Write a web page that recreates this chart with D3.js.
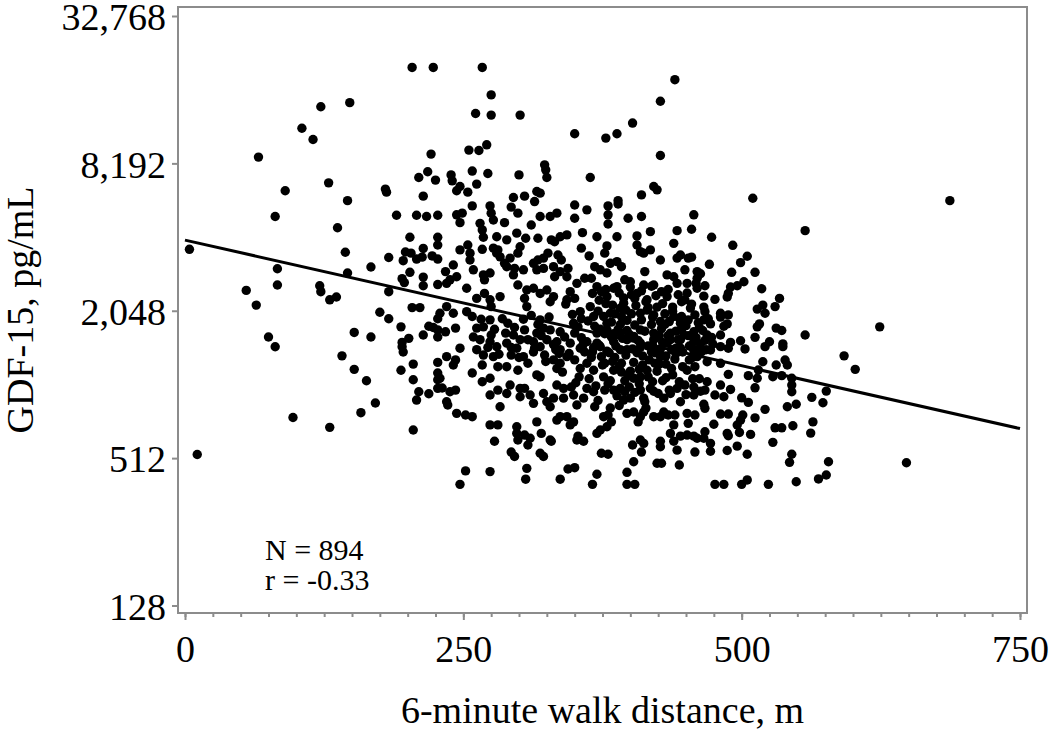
<!DOCTYPE html>
<html>
<head>
<meta charset="utf-8">
<script src="https://cdn.jsdelivr.net/npm/d3@7"></script>
<style>
  body { margin: 0; background: #fff; }
  svg text { font-family: "Liberation Serif", "Times New Roman", serif; fill: #000; }
</style>
</head>
<body>
<svg id="chart" width="1050" height="734"></svg>
<script>
// ---- data ----
const xTicks = [0, 250, 500, 750];
const xMinorStep = 25;
const yTicks = [128, 512, 2048, 8192, 32768];
const fitDistance = [0, 750];
const fitGdf = [3980, 676];
const statsLines = ['N = 894', 'r = -0.33'];
const xTitle = '6-minute walk distance, m';
const yTitle = 'GDF-15, pg/mL';

// [6MWD (m), GDF-15 (pg/mL)]
const observations = [
  [204,20200],[223,20200],[122,13950],[148,14500],[105,11400],[115,10250],[66,8690],[221,8940],[218,7570],[210,7170],
  [225,7000],[129,6820],[90,6330],[180,6430],[181,6250],[214,6020],[146,5770],
  [267,20200],[440,18000],[275,15600],[427,14700],[261,13100],[275,12900],[301,12900],[402,11970],[350,10820],[378,10390],
  [388,10820],[271,9755],[255,9280],[264,9250],[427,8820],[323,8080],[324,7710],[325,7170],[258,7620],[272,7450],
  [300,7350],[364,7170],[239,7350],[240,6950],[262,6740],[247,6590],[244,6330],[254,6250],[421,6590],[424,6385],
  [410,6090],[295,5940],[305,6020],[316,6285],[319,6190],[389,5770],
  [510,5900],[687,5770],
  [4,3650],[81,4970],[137,4470],[144,3550],[190,5030],[208,5030],[217,4970],[227,5030],[202,4090],[227,4090],
  [227,3800],[214,3680],[198,3560],[203,3520],[183,3380],[196,3280],[208,3330],[213,3390],[222,3430],[227,3330],
  [83,3040],[167,3090],[146,2920],[202,2940],[195,2770],[197,2670],[214,2810],[214,2590],[227,2620],[55,2480],
  [83,2610],[121,2590],[122,2450],[130,2270],[136,2330],[183,2450],[64,2160],[204,2110],[211,2110],[175,2020],
  [183,1900],[227,1900],[194,1760],[219,1770],[223,1750],[227,1710],[152,1670],[167,1600],[75,1600],[201,1580],
  [195,1520],[214,1630],[227,1600],
  [81,1460],[141,1340],[152,1180],[163,1060],[171,860],[158,785],[97,750],[130,684],[11,530],[205,667],
  [195,1460],[196,1390],[194,1170],[205,1240],[205,1070],[210,956],[208,884],[219,938],[227,1260],[227,1140],
  [227,1070],[227,987],
  [557,4350],[473,4090],[492,3790],[505,3420],[499,3220],[471,3170],[491,2940],[512,2940],[463,2900],[502,2690],
  [496,2590],[490,2560],[488,2410],[487,2330],[467,2590],[518,2520],[466,2350],[476,2280],[534,2300],[530,2130],
  [519,2160],[514,2080],[521,2000],[466,2120],[467,2030],[481,2000],[488,1970],[481,1930],[466,1880],[472,1810],
  [487,1810],[484,1770],[516,1810],[514,1760],[531,1740],[536,1700],[624,1760],[557,1630],[512,1595],[469,1630],
  [473,1595],[481,1630],[499,1545],[490,1520],[525,1530],[537,1500],
  [592,1340],[602,1180],[648,490],[578,495],[576,437],[569,421],[549,410],[524,400],[505,417],[500,400],
  [476,400],[484,400],[545,531],[543,492],[505,531],[528,594],[487,550],[496,573],[472,546],[472,588],
  [562,648],[564,720],[546,694],[530,681],[536,681],[508,640],[487,646],[488,632],[467,656],[466,617],
  [475,704],[496,699],[499,732],[501,768],[498,652],[512,748],[521,810],[481,775],[488,775],[541,830],
  [549,850],[563,907],[573,862],[576,962],[466,850],[467,818],[500,903],[506,865],[490,977],[476,927],
  [484,912],[481,1018],[469,1050],[467,971],[488,1126],[512,992],[514,1085],[506,1112],[515,1173],[519,1268],
  [528,1101],[531,1229],[539,1289],[541,1229],[545,1085],[545,1018],[545,956],[536,1112],[481,1249],[469,1268],
  [464,1394],[472,1416],[481,1461],[488,1439],[503,1430],[521,1461],[537,1461],
  [258,5490],[274,5490],[275,5130],[277,4810],[293,5430],[299,5130],[314,5720],[350,5540],[350,4890],[361,5290],
  [380,5490],[380,5050],[380,4630],[389,5590],[398,4890],[410,4970],[457,5050],[244,5050],[249,5130],[247,4690],
  [265,4660],[267,4380],[268,4090],[287,4690],[311,4590],[319,4970],[328,4970],[334,5130],[357,4270],[370,4110],
  [388,4110],[406,4140],[418,4310],[442,4350],[455,4410],
  [280,4110],[289,3990],[298,4250],[306,4050],[317,4050],[329,3990],[337,4110],[343,4180],[332,3920],[254,3800],
  [256,3520],[256,3300],[247,3630],[267,3650],[277,3690],[281,3630],[283,3400],[280,3520],[301,3740],[299,3520],
  [292,3360],[287,3200],[313,3200],[317,3300],[322,3360],[326,3520],[335,3460],[338,3300],[356,3690],[363,3430],
  [379,3770],[377,3520],[382,3200],[406,3800],[409,3570],[412,3520],[418,3630],[427,3300],[439,3860],[442,3360],
  [445,3460],[452,3360],[455,3390],
  [241,3150],[234,2960],[259,3010],[268,2870],[274,2920],[269,2740],[289,3100],[296,3050],[295,2870],[304,3010],
  [316,3010],[322,3050],[331,3100],[332,2820],[337,2960],[344,3050],[343,2820],[352,2650],[368,3100],[373,3010],
  [379,2920],[388,3250],[392,3100],[395,2740],[400,2690],[413,2960],[412,2610],[421,2610],[433,2870],[439,2820],
  [449,3010],[451,2650],[460,2960],[460,2780],[238,2740],[244,2820],[235,2650],[253,2530],[262,2300],[269,2410],
  [274,2270],[275,2130],[283,2340],[299,2610],[307,2490],[313,2530],[305,2300],[307,2130],[319,2410],[325,2490],
  [331,2340],[328,2230],[346,2450],[350,2300],[343,2270],[359,2780],[365,2780],[370,2570],[374,2450],[379,2340],
  [385,2530],[388,2570],[394,2200],[401,2380],[406,2410],[415,2270],[428,2450],[433,2340],[443,2380],[449,2270],
  [460,2530],
  [235,2130],[241,2000],[229,2000],[253,2030],[258,1940],[262,1740],[268,1760],[274,1880],[275,1630],[243,1740],
  [234,1680],[290,1820],[295,1630],[305,1710],[319,1880],[322,1740],[316,1660],[328,1710],[337,1680],[341,1600],
  [349,1820],[355,2030],[364,2130],[367,1940],[376,1940],[382,2000],[391,2100],[392,1940],[370,1660],[379,1710],
  [383,1600],[391,1660],[409,2000],[415,2060],[421,1970],[409,1710],[421,1660],[427,1850],[439,1940],[445,1820],
  [452,1880],[458,1970],[436,1660],[446,1710],[457,1680],
  [265,1560],[274,1530],[289,1510],[301,1560],[313,1530],[325,1560],[334,1530],[346,1510],[358,1530],[370,1510],
  [385,1530],[397,1560],[409,1510],[421,1560],[433,1510],[445,1560],[457,1530],
  [247,1440],[262,1420],[280,1460],[298,1440],[319,1460],[337,1420],[355,1440],[373,1460],[391,1420],[409,1450],
  [427,1430],[445,1440],[460,1420],
  [235,1330],[243,1290],[241,1230],[258,1140],[267,1230],[268,1350],[277,1330],[281,1210],[289,1210],[293,1350],
  [299,1170],[304,1330],[308,1250],[313,1390],[319,1100],[316,1120],[323,1350],[331,1290],[334,1190],[337,1250],
  [343,1330],[350,1290],[355,1190],[361,1250],[367,1170],[377,1250],[385,1170],[392,1150],[403,1085],[409,1100],
  [415,1170],[422,1250],[427,1330],[437,1190],[451,1170],[458,1210],
  [229,1085],[231,990],[238,956],[243,971],[235,870],[236,844],[267,1050],[274,1085],[274,927],[281,971],
  [292,1018],[289,940],[301,987],[301,912],[305,987],[310,927],[313,857],[322,940],[325,870],[331,900],
  [328,830],[334,1018],[340,987],[340,900],[347,1000],[349,927],[352,844],[358,900],[361,987],[367,956],
  [368,830],[377,971],[385,971],[391,987],[395,956],[394,884],[400,900],[409,971],[412,900],[418,987],
  [425,940],[430,900],[436,940],[442,987],[449,1018],[457,1000],[457,927],
  [283,830],[244,780],[252,768],[258,756],[274,700],[281,700],[298,688],[298,646],[299,607],[305,636],
  [310,617],[308,579],[316,720],[320,646],[328,607],[329,600],[334,732],[337,756],[343,756],[349,720],
  [346,700],[352,607],[358,600],[353,630],[370,646],[373,667],[376,756],[380,768],[383,720],[379,688],
  [382,820],[397,780],[403,790],[409,756],[412,790],[407,720],[421,756],[427,756],[430,790],[434,768],
  [440,768],[439,700],[451,780],[452,710],[458,768],[436,646],[439,600],[445,630],[451,636],[457,630],
  [460,617],[409,607],[412,588],[402,579],[410,542],[427,600],[427,570],[442,552],[458,542],[278,600],
  [293,542],[296,520],[319,536],[322,520],[374,536],[380,531],[424,488],[428,488],[444,480],[403,495],
  [307,465],[344,462],[350,468],[252,454],[274,451],[397,448],[370,440],[247,400],[306,420],[337,420],
  [366,400],[397,400],[404,400],
  // dense core, overlapping dots
  [342,2180],[348,1980],[353,1760],[356,1590],[359,1390],[362,1860],[365,1320],[368,1770],[371,2040],[372,1480],
  [375,1230],[377,1650],[378,2190],[381,1380],[383,1840],[384,1270],[386,1990],[387,1470],[389,1720],[390,1210],
  [393,1580],[394,2310],[396,1350],[397,1870],[398,1110],[399,1640],[401,1990],[402,1430],[403,1260],[404,1790],
  [405,2150],[407,1550],[408,1180],[410,1880],[411,1340],[413,1690],[414,2230],[416,1470],[417,1290],[419,1800],
  [420,1930],[422,1380],[423,1590],[424,2120],[426,1240],[428,1730],[429,1520],[431,1990],[432,1340],[434,1620],
  [435,1850],[437,1420],[438,2040],[440,1300],[441,1690],[443,1560],[444,1910],[447,1390],[448,1630],[450,1780],
  [453,1470],[454,2100],[456,1320],[459,1590],[461,1830],[463,1500],[465,1700],[468,1420],[470,1900],[474,1500],
  [336,1370],[331,1490],[327,1930],[324,1270],[320,1620],[317,1800],[314,1440],[311,1960],[308,1560],[304,1890],
  [300,1320],[296,1750],[293,1450],[288,1660],[285,1900],[282,1360],[278,1720],[272,1450],[266,1890],[259,1600],
  [390,840],[414,820],[445,870],[420,1050],[380,1030],[354,1100],[432,1090],[462,1080],[399,1000],[371,880],
  [333,1420],[339,1150],[345,1370],[351,1040],[357,1470],[363,1080],[366,1390],[369,1010],[374,1330],[376,1100],
  [379,1400],[382,1060],[386,1320],[388,920],[392,1250],[395,1060],[397,1420],[400,1160],[404,950],[406,1380],
  [408,1030],[411,1230],[413,870],[416,1100],[419,1390],[421,960],[424,1160],[426,1400],[429,1060],[432,1240],
  [435,970],[438,1120],[441,1370],[444,1050],[447,1210],[450,930],[453,1290],[456,1080],[460,1330],[463,960],
  [366,2410],[372,2260],[378,2500],[384,2160],[390,2420],[396,2060],[400,2560],[404,2300],[410,2470],[416,2110],
  [419,2580],[423,2360],[429,2190],[434,2500],[438,2120],[442,2650],[446,2230],[451,2420],[455,2180],[459,2650],
  [420,1480],[426,1620],[431,1800],[436,1560],[441,1440],[446,1940],[452,1620],[457,1410],[462,1750],[467,1550],
  [350,1660],[356,1900],[361,1530],[367,1450],[373,1720],[379,1820],[385,1650],[391,1800],[397,1700],[403,1610]
];

// ---- layout ----
const svg = d3.select('#chart');
const frame = { left: 178, right: 1027, top: 7, bottom: 613 };
const axisGrey = '#8c8c8c';

const x = d3.scaleLinear().domain([0, 750]).range([185, 1020]);
const y = d3.scaleLog().base(2).domain([128, 32768]).range([605.5, 16]);

// minor x ticks
svg.append('g')
    .attr('transform', `translate(0, ${frame.bottom})`)
    .call(d3.axisBottom(x).tickValues(d3.range(0, 751, xMinorStep)).tickSize(4).tickFormat(''))
    .call(g => g.select('.domain').remove())
    .call(g => g.selectAll('line').attr('stroke', axisGrey).attr('stroke-width', 2));

// major x ticks + labels
svg.append('g')
    .attr('transform', `translate(0, ${frame.bottom})`)
    .call(d3.axisBottom(x).tickValues(xTicks).tickSize(7).tickPadding(15).tickFormat(d3.format('d')))
    .call(g => g.select('.domain').remove())
    .call(g => g.selectAll('line').attr('stroke', axisGrey).attr('stroke-width', 2))
    .call(g => g.selectAll('text').attr('font-size', 38).attr('fill', '#000')
        .style('font-family', '"Liberation Serif", serif'));

// y ticks + labels
svg.append('g')
    .attr('transform', `translate(${frame.left}, 0)`)
    .call(d3.axisLeft(y).tickValues(yTicks).tickSize(6).tickPadding(6).tickFormat(d3.format(',')))
    .call(g => g.select('.domain').remove())
    .call(g => g.selectAll('line').attr('stroke', axisGrey).attr('stroke-width', 2))
    .call(g => g.selectAll('text').attr('font-size', 38).attr('fill', '#000')
        .attr('dy', '0.36em')
        .style('font-family', '"Liberation Serif", serif'));

// plot frame
svg.append('rect')
    .attr('x', frame.left).attr('y', frame.top)
    .attr('width', frame.right - frame.left).attr('height', frame.bottom - frame.top)
    .attr('fill', 'none').attr('stroke', axisGrey).attr('stroke-width', 2);

// points
svg.append('g')
    .selectAll('circle')
    .data(observations)
    .join('circle')
    .attr('cx', d => x(d[0]))
    .attr('cy', d => y(d[1]))
    .attr('r', 4.7)
    .attr('fill', '#000');

// regression line
const fit = d3.zip(fitDistance, fitGdf);
svg.append('path')
    .datum(fit)
    .attr('d', d3.line().x(d => x(d[0])).y(d => y(d[1])))
    .attr('stroke', '#000')
    .attr('stroke-width', 3)
    .attr('fill', 'none');

// N / r annotation
svg.append('g')
    .selectAll('text')
    .data(statsLines)
    .join('text')
    .attr('x', 265)
    .attr('y', (d, i) => 560 + i * 30)
    .attr('font-size', 30)
    .text(d => d);

// axis titles
svg.append('text')
    .attr('x', (frame.left + frame.right) / 2)
    .attr('y', 723)
    .attr('text-anchor', 'middle')
    .attr('font-size', 38)
    .text(xTitle);

svg.append('text')
    .attr('transform', `translate(33, ${(frame.top + frame.bottom) / 2}) rotate(-90)`)
    .attr('text-anchor', 'middle')
    .attr('font-size', 38)
    .text(yTitle);
</script>
</body>
</html>
